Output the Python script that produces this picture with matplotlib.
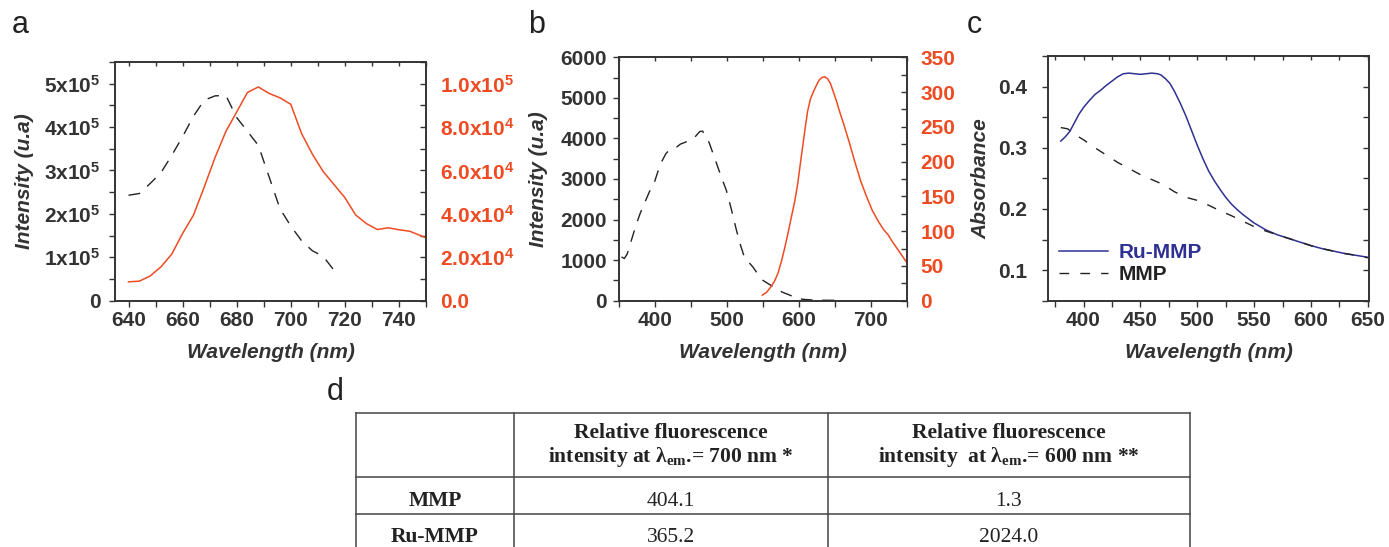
import matplotlib
matplotlib.use("Agg")
import matplotlib.pyplot as plt
from matplotlib.ticker import MultipleLocator, FuncFormatter
from matplotlib.lines import Line2D

# ---------------- data ----------------
# panel a
a_ex_wl = [640, 644, 648, 652, 656, 660, 664, 668, 672, 676, 680, 684, 688, 692, 696, 700, 704, 708, 712, 716, 718]
a_ex_int = [2.43e5, 2.47e5, 2.70e5, 2.95e5, 3.35e5, 3.78e5, 4.25e5, 4.62e5, 4.72e5, 4.73e5, 4.22e5,
            3.90e5, 3.58e5, 2.85e5, 2.12e5, 1.72e5, 1.38e5, 1.15e5, 1.02e5, 0.70e5, 0.62e5]
a_em_wl = [640, 644, 648, 652, 656, 660, 664, 668, 672, 676, 680, 684, 688, 692, 696, 700, 704, 708,
           712, 716, 720, 724, 728, 732, 736, 740, 744, 748, 750]
a_em_int = [8.7e3, 9.0e3, 1.14e4, 1.56e4, 2.15e4, 3.1e4, 3.94e4, 5.24e4, 6.6e4, 7.8e4, 8.7e4, 9.6e4, 9.85e4,
            9.55e4, 9.35e4, 9.05e4, 7.7e4, 6.75e4, 5.95e4, 5.35e4, 4.75e4, 3.95e4, 3.55e4, 3.28e4, 3.36e4,
            3.27e4, 3.2e4, 3.0e4, 2.9e4]

# panel b
b_ex_wl = [353, 357, 361, 367, 373, 379, 385, 392, 399, 405, 409, 415, 420, 425, 430, 435, 441, 448, 455,
           462, 466, 470, 475, 481, 487, 493, 499, 506, 513, 519, 524, 530, 536, 543, 550, 559, 568, 577,
           587, 596, 605, 620, 640, 660]
b_ex_int = [1080, 1040, 1150, 1500, 1850, 2150, 2400, 2690, 2930, 3250, 3430, 3630, 3720, 3760, 3790, 3860,
            3900, 3960, 4030, 4170, 4180, 4050, 3900, 3600, 3300, 3000, 2720, 2250, 1740, 1350, 1080, 950,
            830, 650, 500, 400, 300, 210, 140, 70, 35, 15, 10, 10]
b_abs_wl = [549, 555, 561, 566, 571, 576, 580, 585, 589, 594, 598, 603, 608, 612, 616, 620, 624, 628, 632,
            636, 640, 644, 648, 652, 656, 662, 670, 678, 686, 694, 702, 710, 718, 724, 730, 738, 746, 750]
b_abs_val = [8, 12, 20, 28, 40, 58, 75, 98, 118, 142, 166, 205, 243, 272, 290, 300, 309, 317, 321, 322, 319,
             312, 300, 288, 274, 255, 228, 199, 172, 150, 130, 115, 102, 95, 85, 73, 61, 55]

# panel c
c_wl_ru = [380, 384, 388, 392, 396, 400, 405, 410, 415, 420, 425, 430, 435, 440, 445, 450, 455, 460, 465,
           468, 472, 476, 480, 485, 490, 495, 500, 505, 510, 515, 520, 525, 530, 535, 540, 545, 550, 560,
           570, 580, 590, 600, 610, 620, 630, 640, 650]
c_abs_ru = [0.311, 0.318, 0.327, 0.341, 0.355, 0.366, 0.377, 0.387, 0.394, 0.402, 0.409, 0.416, 0.421, 0.422,
            0.421, 0.420, 0.421, 0.422, 0.421, 0.419, 0.413, 0.405, 0.392, 0.373, 0.352, 0.328, 0.304, 0.282,
            0.262, 0.246, 0.232, 0.219, 0.208, 0.199, 0.191, 0.184, 0.177, 0.166, 0.158, 0.152, 0.146, 0.140,
            0.135, 0.131, 0.127, 0.124, 0.121]
c_wl_mmp = [380, 386, 392, 400, 410, 420, 430, 440, 450, 460, 470, 480, 490, 500, 510, 520, 530, 540, 550,
            560, 570, 580, 590, 600, 610, 620, 630, 640, 650]
c_abs_mmp = [0.333, 0.331, 0.322, 0.313, 0.300, 0.288, 0.276, 0.266, 0.256, 0.248, 0.240, 0.228, 0.219,
             0.214, 0.206, 0.197, 0.189, 0.180, 0.171, 0.164, 0.158, 0.152, 0.146, 0.140, 0.135, 0.131,
             0.127, 0.124, 0.120]
c_labels = ["Ru-MMP", "MMP"]

# panel d table
table_header = ["", "Relative fluorescence\nintensity at $λ_{em}$.= 700 nm *",
                "Relative fluorescence\nintensity  at $λ_{em}$.= 600 nm **"]
table_rows = ["MMP", "Ru-MMP"]
table_700 = ["404.1", "365.2"]
table_600 = ["1.3", "2024.0"]

# ---------------- style ----------------
W, H = 1389, 547
plt.rcParams["font.family"] = ["Liberation Sans", "DejaVu Sans"]
plt.rcParams["font.weight"] = "bold"
plt.rcParams["mathtext.default"] = "regular"
DARK = "#333333"
RED = "#EF4B23"
BLUE = "#2E3192"
TICK_FS = 15
LAB_FS = 15

fig = plt.figure(figsize=(W / 100, H / 100), dpi=100)


def px_axes(l, r, t, b):
    return fig.add_axes([l / W, 1 - b / H, (r - l) / W, (b - t) / H])


def style_axes(ax, xmaj, xmin, ymaj, ymin, ypad):
    for s in ax.spines.values():
        s.set_color(DARK)
        s.set_linewidth(1.2)
    ax.xaxis.set_major_locator(MultipleLocator(xmaj))
    ax.xaxis.set_minor_locator(MultipleLocator(xmin))
    ax.yaxis.set_major_locator(MultipleLocator(ymaj))
    ax.yaxis.set_minor_locator(MultipleLocator(ymin))
    ax.tick_params(axis="both", which="both", direction="out", length=4, width=1, color=DARK,
                   labelcolor=DARK, labelsize=TICK_FS)
    ax.tick_params(axis="x", which="both", pad=3.5)
    ax.tick_params(axis="y", which="both", pad=ypad)
    sec = ax.secondary_xaxis("top")
    sec.xaxis.set_major_locator(MultipleLocator(xmaj))
    sec.xaxis.set_minor_locator(MultipleLocator(xmin))
    sec.tick_params(axis="x", which="both", direction="in", length=3, width=1, color=DARK,
                    labeltop=False)
    sec.spines["top"].set_visible(False)
    for lab in ax.get_xticklabels() + ax.get_yticklabels():
        lab.set_fontweight("bold")


def labels(ax, ylabel, ylx, xly):
    ax.set_xlabel("Wavelength (nm)", fontsize=LAB_FS, fontstyle="italic", fontweight="bold", color=DARK)
    ax.set_ylabel(ylabel, fontsize=LAB_FS, fontstyle="italic", fontweight="bold", color=DARK)
    ax.xaxis.set_label_coords(0.5, xly)
    ax.yaxis.set_label_coords(ylx, 0.5)


def right_axis(ax, ylim, maj, minr, fmt=None, labels_on=True):
    r = ax.twinx()
    r.set_ylim(*ylim)
    r.yaxis.set_major_locator(MultipleLocator(maj))
    r.yaxis.set_minor_locator(MultipleLocator(minr))
    r.tick_params(axis="y", which="both", direction="in", length=4, width=1, color=DARK,
                  labelcolor=RED, labelsize=TICK_FS, pad=10, labelright=labels_on)
    if fmt is not None:
        r.yaxis.set_major_formatter(FuncFormatter(fmt))
    for s in r.spines.values():
        s.set_color(DARK)
        s.set_linewidth(1.2)
    return r


# ---------------- panel a ----------------
axa = px_axes(115, 426, 62, 300.7)
axa.plot(a_ex_wl, a_ex_int, color="#222222", lw=1.0, dashes=(8.5, 7))
axa.set_xlim(635, 750)
axa.set_ylim(0, 5.5e5)
style_axes(axa, 20, 10, 1e5, 0.5e5, 6.5)
axa.yaxis.set_major_formatter(FuncFormatter(lambda v, p: "0" if v == 0 else f"{int(round(v / 1e5))}x10$^5$"))
labels(axa, "Intensity (u.a)", -0.262, -0.176)


def fmt_a_right(v, p):
    if v == 0:
        return "0.0"
    if v >= 1e5:
        return f"{v / 1e5:.1f}x10$^5$"
    return f"{v / 1e4:.1f}x10$^4$"


ra = right_axis(axa, (0, 1.1e5), 2e4, 1e4, fmt_a_right)
ra.plot(a_em_wl, a_em_int, color=RED, lw=1.1)

# ---------------- panel b ----------------
axb = px_axes(619.3, 906.7, 57.3, 300.7)
axb.plot(b_ex_wl, b_ex_int, color="#222222", lw=1.0, dashes=(8.5, 7))
axb.set_xlim(350, 750)
axb.set_ylim(0, 6000)
style_axes(axb, 100, 50, 1000, 500, 5)
labels(axb, "Intensity (u.a)", -0.248, -0.1726)
rb = right_axis(axb, (0, 350), 50, 25, lambda v, p: f"{int(v)}")
rb.plot(b_abs_wl, b_abs_val, color=RED, lw=1.1)

# ---------------- panel c ----------------
axc = px_axes(1048.3, 1369, 56, 300.7)
l1, = axc.plot(c_wl_ru, c_abs_ru, color=BLUE, lw=1.1)
l2, = axc.plot(c_wl_mmp, c_abs_mmp, color="#222222", lw=1.0, dashes=(7, 8))
axc.set_xlim(369, 651)
axc.set_ylim(0.05, 0.45)
style_axes(axc, 50, 25, 0.1, 0.05, 11)
axc.yaxis.set_major_formatter(FuncFormatter(lambda v, p: f"{v:.1f}"))
labels(axc, "Absorbance", -0.179, -0.1716)
rc = right_axis(axc, (0.05, 0.45), 0.1, 0.05, labels_on=False)
leg = axc.legend([l1, l2], c_labels, loc="lower left", bbox_to_anchor=(0.033, 0.068), frameon=False,
                 handlelength=2.35, handletextpad=0.53, labelspacing=0.15, borderpad=0, borderaxespad=0,
                 prop={"family": "Liberation Sans", "weight": "bold", "size": LAB_FS})
leg.get_texts()[0].set_color(BLUE)
leg.get_texts()[1].set_color("#222222")

# ---------------- panel letters ----------------
for letter, x, y in [("a", 12, 33), ("b", 528, 33), ("c", 967, 33), ("d", 327, 400)]:
    fig.text(x / W, 1 - y / H, letter, fontsize=22, fontweight="normal", color="#222222",
             ha="left", va="baseline")

# ---------------- panel d (table) ----------------
axt = fig.add_axes([0, 0, 1, 1], zorder=-1)
axt.set_xlim(0, W)
axt.set_ylim(H, 0)
axt.axis("off")
col_edges = [356, 514, 828, 1189.5]
row_edges = [412.7, 477.3, 514, 550.7]
for y in row_edges:
    axt.add_line(Line2D([col_edges[0], col_edges[-1]], [y, y], color="#444444", lw=1.1))
for x in col_edges:
    axt.add_line(Line2D([x, x], [row_edges[0], row_edges[-1]], color="#444444", lw=1.1))
col_c = [(col_edges[i] + col_edges[i + 1]) / 2 for i in range(3)]
serif = ["Liberation Serif", "DejaVu Serif"]
TFS = 15.5
for j in (1, 2):
    l_1, l_2 = table_header[j].split("\n")
    axt.text(col_c[j], 438.3, l_1, family=serif, fontsize=TFS, fontweight="bold", color="#222222",
             ha="center", va="baseline")
    axt.text(col_c[j], 462, l_2, family=serif, fontsize=TFS, fontweight="bold", color="#222222",
             ha="center", va="baseline")
for i, (name, v7, v6) in enumerate(zip(table_rows, table_700, table_600)):
    yb = [505.7, 541.7][i]
    axt.text(col_c[0], yb, name, family=serif, fontsize=TFS, fontweight="bold", color="#222222",
             ha="center", va="baseline")
    axt.text(col_c[1], yb, v7, family=serif, fontsize=TFS, fontweight="normal", color="#222222",
             ha="center", va="baseline")
    axt.text(col_c[2], yb, v6, family=serif, fontsize=TFS, fontweight="normal", color="#222222",
             ha="center", va="baseline")

fig.savefig("out.png", dpi=100)
